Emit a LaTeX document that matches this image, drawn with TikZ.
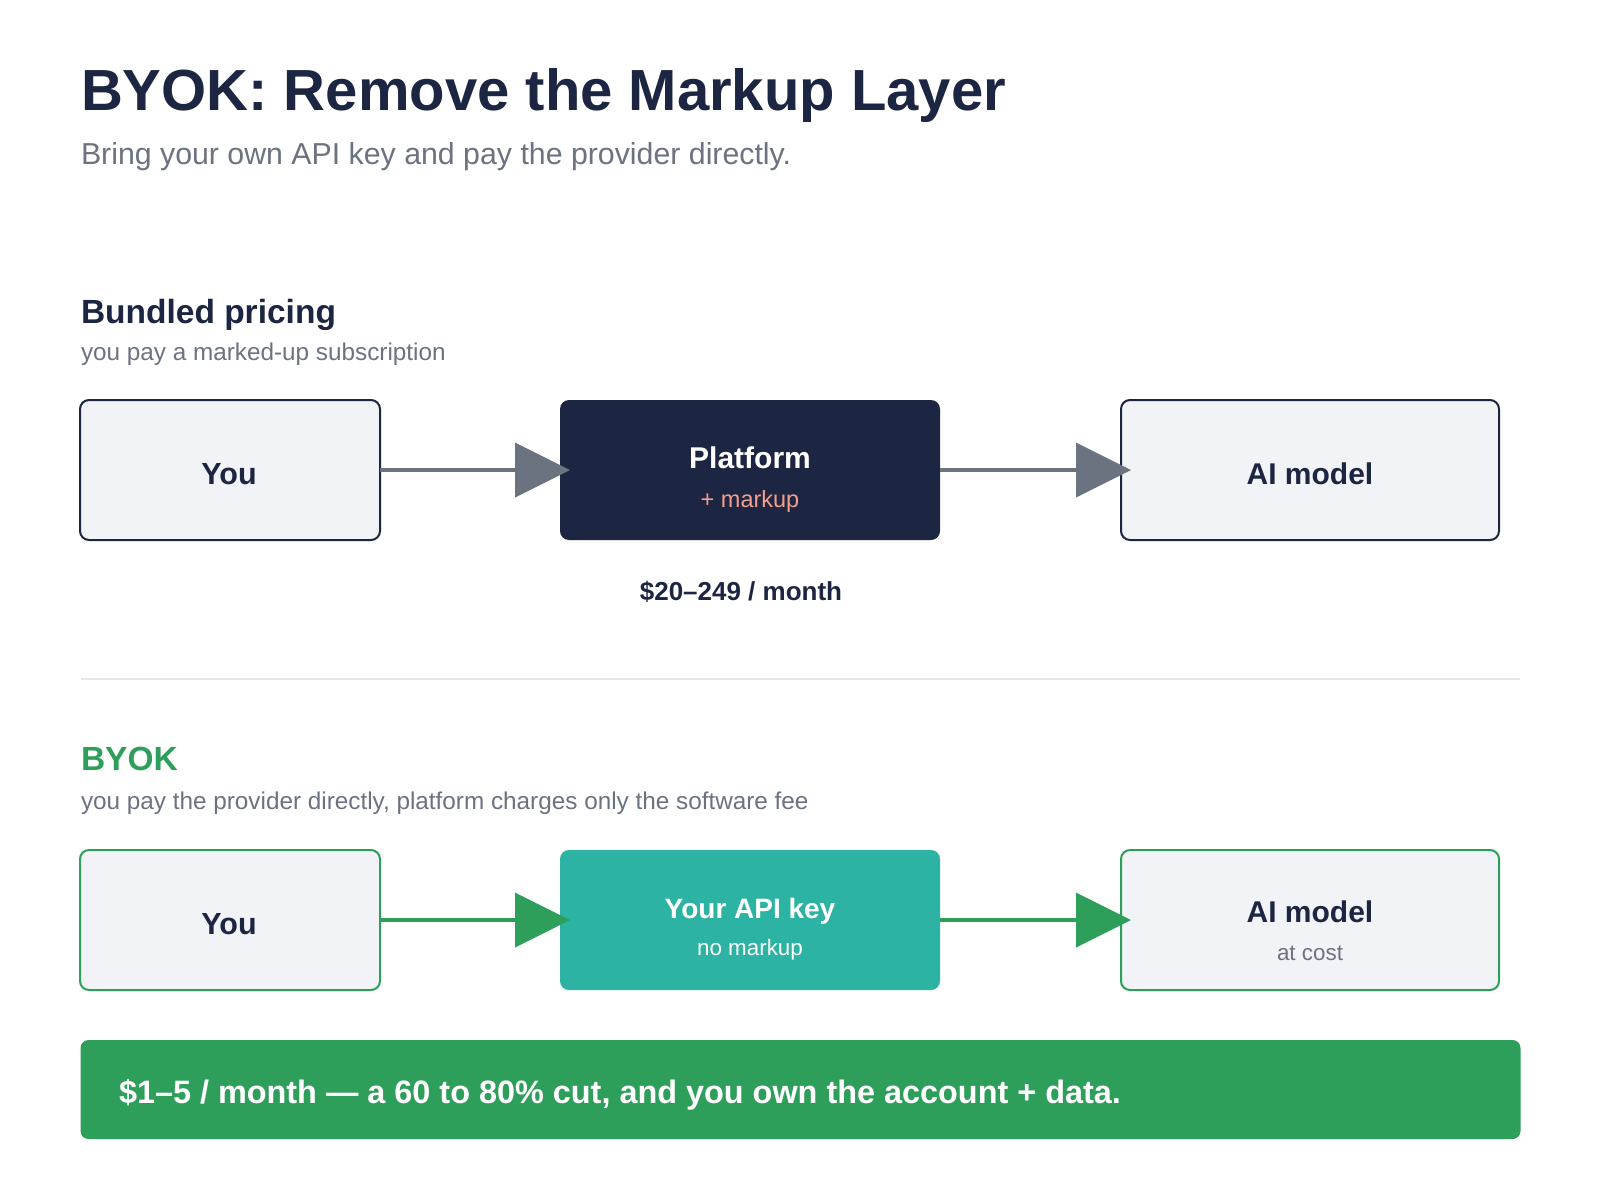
\documentclass[tikz,border=0pt]{standalone}
\usepackage{fontspec}
\setmainfont{Liberation Sans}
\usetikzlibrary{arrows.meta}
\definecolor{navy}{HTML}{1C2541}
\definecolor{txtgray}{HTML}{6B7280}
\definecolor{boxfill}{HTML}{F1F3F7}
\definecolor{byokgreen}{HTML}{2E9F5B}
\definecolor{tealbox}{HTML}{2CB3A3}
\definecolor{coral}{HTML}{F59E8B}
\definecolor{sepgray}{HTML}{E5E7EB}
\newcommand{\fs}[1]{\fontsize{#1pt}{#1pt}\selectfont}
\tikzset{
  txt/.style={inner sep=0pt, outer sep=0pt, anchor=base west},
  titletext/.style={txt, text=navy, font=\fs{58}\bfseries},
  subtitletext/.style={txt, text=txtgray, font=\fs{30.3}},
  secthead/.style={txt, text=navy, font=\fs{33.5}\bfseries},
  sectsub/.style={txt, text=txtgray, font=\fs{24.3}},
  flowbox/.style={rectangle, rounded corners=9pt, inner sep=0pt, outer sep=0pt,
    minimum height=140pt},
  lightbox/.style={flowbox, fill=boxfill, line width=2pt},
  boxtitle/.style={inner sep=0pt, outer sep=0pt, anchor=base, font=\fs{30}\bfseries},
  boxsub/.style={inner sep=0pt, outer sep=0pt, anchor=base, font=\fs{22.4}},
  conn/.style={line width=4pt, -{Triangle[length=55pt, width=55pt, line width=0pt]}},
}
\begin{document}
\begin{tikzpicture}[x=1pt, y=-1pt]
\useasboundingbox[fill=white] (0,0) rectangle (1600,1200);

% header
\node[titletext] (title) at (81,110) {BYOK: Remove the Markup Layer};
\node[subtitletext] (subtitle) at (81,164) {Bring your own API key and pay the provider directly.};

% bundled section
\node[secthead] (bhead) at (81,323) {Bundled pricing};
\node[sectsub] (bsub) at (81,360) {you pay a marked-up subscription};

\node[lightbox, draw=navy, minimum width=300pt] (you1) at (230,470) {};
\node[flowbox, fill=navy, minimum width=380pt] (plat) at (750,470) {};
\node[lightbox, draw=navy, minimum width=378pt] (ai1) at (1310,470) {};

\node[boxtitle, text=navy, font=\fs{30.5}\bfseries] (you1t) at (229,484) {You};
\node[boxtitle, text=white] (platt) at (750,468) {Platform};
\node[boxsub, text=coral, font=\fs{23.5}] (plats) at (750,507) {+ markup};
\node[boxtitle, text=navy] (ai1t) at (1310,484) {AI model};

\draw[conn, draw=txtgray] (you1.east) -- ([xshift=10pt]plat.west);
\draw[conn, draw=txtgray] (plat.east) -- ([xshift=10pt]ai1.west);

\node[inner sep=0pt, outer sep=0pt, anchor=base, text=navy, font=\fs{26}\bfseries] (price) at (741,600) {\$20–249 / month};

% separator
\coordinate (sepL) at (81,679);
\coordinate (sepR) at (1520,679);
\draw[sepgray, line width=2pt] (sepL) -- (sepR);

% byok section
\node[secthead, text=byokgreen] (yhead) at (81,770) {BYOK};
\node[sectsub] (ysub) at (81,809) {you pay the provider directly, platform charges only the software fee};

\node[lightbox, draw=byokgreen, minimum width=300pt] (you2) at (230,920) {};
\node[flowbox, fill=tealbox, minimum width=380pt] (key) at (750,920) {};
\node[lightbox, draw=byokgreen, minimum width=378pt] (ai2) at (1310,920) {};

\node[boxtitle, text=navy, font=\fs{30.5}\bfseries] (you2t) at (229,934) {You};
\node[boxtitle, text=white, font=\fs{28}\bfseries] (keyt) at (750,918) {Your API key};
\node[boxsub, text=white] (keys) at (750,955) {no markup};
\node[boxtitle, text=navy] (ai2t) at (1310,922) {AI model};
\node[boxsub, text=txtgray] (ai2s) at (1310,960) {at cost};

\draw[conn, draw=byokgreen] (you2.east) -- ([xshift=10pt]key.west);
\draw[conn, draw=byokgreen] (key.east) -- ([xshift=10pt]ai2.west);

% banner
\node[rectangle, rounded corners=8pt, fill=byokgreen, inner sep=0pt, outer sep=0pt,
  minimum width=1440pt, minimum height=99pt] (banner) at (800.5,1089.5) {};
\node[txt, text=white, font=\fs{32.4}\bfseries] (bannert) at (119,1103) {\$1–5 / month — a 60 to 80\% cut, and you own the account + data.};
\end{tikzpicture}
\end{document}
